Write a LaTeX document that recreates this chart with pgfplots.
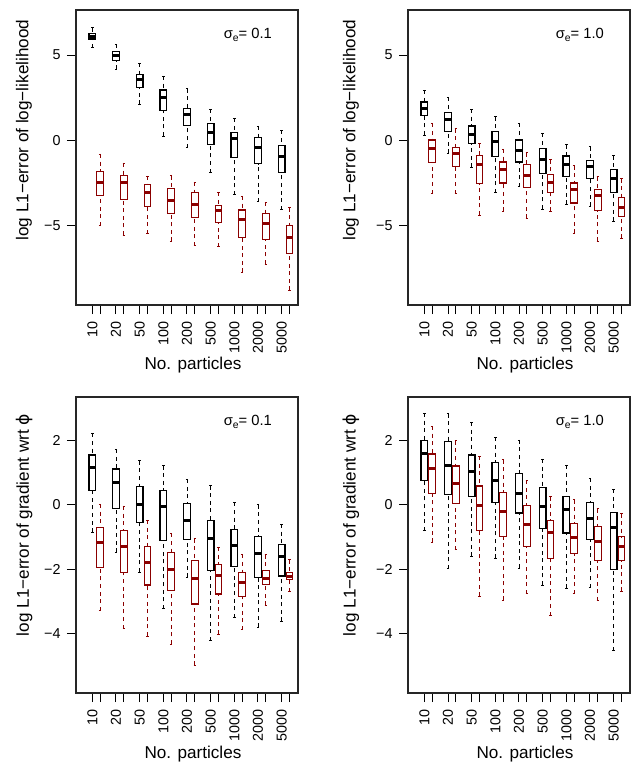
\documentclass[border=0pt]{standalone}
\usepackage{fontspec}
\setmainfont{Liberation Sans}
\newfontfamily\dejavu{DejaVu Sans}
\usepackage{pgfplots}
\usepgfplotslibrary{statistics}
\pgfplotsset{compat=1.18}
\definecolor{rdark}{HTML}{8B0000}

\newcommand{\ticksz}{\fontsize{7.2}{8}\selectfont}
\newcommand{\labsz}{\fontsize{8.6}{10}\selectfont}
\newcommand{\sig}[1]{\node[anchor=east, font=\fontsize{7.4}{8}\selectfont] at (axis description cs:0.914,0.915)
  {σ\raisebox{-0.35ex}{\fontsize{5.2}{5}\selectfont e}= #1};}
% one box: colour, position, upper whisker, upper quartile, median, lower quartile, lower whisker
\newcommand{\bx}[7]{\addplot[color=#1, boxplot prepared={draw direction=y, draw position=#2, upper whisker=#3,
  upper quartile=#4, median=#5, lower quartile=#6, lower whisker=#7}] coordinates {};}

\pgfplotsset{
  boxplot/draw/lower whisker/.code={%
    \draw[dash pattern=on 2bp off 1.8bp]
      (boxplot box cs:\pgfplotsboxplotvalue{lower whisker},0.5) --
      (boxplot box cs:\pgfplotsboxplotvalue{lower quartile},0.5);
    \draw (boxplot whisker cs:\pgfplotsboxplotvalue{lower whisker},0) --
      (boxplot whisker cs:\pgfplotsboxplotvalue{lower whisker},1);
  },
  boxplot/draw/upper whisker/.code={%
    \draw[dash pattern=on 2bp off 1.8bp]
      (boxplot box cs:\pgfplotsboxplotvalue{upper whisker},0.5) --
      (boxplot box cs:\pgfplotsboxplotvalue{upper quartile},0.5);
    \draw (boxplot whisker cs:\pgfplotsboxplotvalue{upper whisker},0) --
      (boxplot whisker cs:\pgfplotsboxplotvalue{upper whisker},1);
  },
  panel/.style={
    scale only axis, width=111bp, height=147.5bp, anchor=south west,
    xmin=0.31, xmax=9.69,
    xtick={1,1.33,2,2.33,3,3.33,4,4.33,5,5.33,6,6.33,7,7.33,8,8.33,9,9.33},
    xticklabels={10,,20,,50,,100,,200,,500,,1000,,2000,,5000,},
    tick pos=left, tick align=outside, major tick length=4.5bp,
    tick style={black, line width=0.5bp},
    axis line style={black!85, line width=0.55bp},
    x tick label style={rotate=90, anchor=east, inner xsep=3.5bp, inner ysep=0pt, font=\ticksz},
    y tick label style={anchor=east, inner xsep=3bp, font=\ticksz},
    every axis x label/.style={at={(axis description cs:0.527,-0.22)}, anchor=base, font=\labsz},
    xlabel={No. particles},
    boxplot/draw direction=y,
    boxplot/box extend=0.28, boxplot/whisker extend=0.1,
    boxplot/every box/.style={line width=0.6bp},
    boxplot/every whisker/.style={line width=0.6bp},
    boxplot/every median/.style={line width=1.5bp},
  },
  toprow/.style={ymin=-9.64, ymax=7.64, ytick={-5,0,5}, yticklabels={−5,0,5}},
  botrow/.style={ymin=-5.84, ymax=3.34, ytick={-4,-2,0,2}, yticklabels={−4,−2,0,2}, height=148bp},
}

\begin{document}
\begin{tikzpicture}
\useasboundingbox (0,0) rectangle (316.5bp,-384.5bp);

% top left
\begin{axis}[panel, toprow, at={(38bp,-152.5bp)},
  every axis y label/.style={at={(axis description cs:-0.234,0.593)}, rotate=90, anchor=center, font=\labsz},
  ylabel={log L1−error of log−likelihood}]
\bx{black}{1}{6.6}{6.27}{6.11}{5.94}{5.43}
\bx{black}{2}{5.63}{5.23}{4.98}{4.69}{4.16}
\bx{black}{3}{4.53}{3.85}{3.54}{3.09}{2.12}
\bx{black}{4}{3.77}{2.95}{2.49}{1.74}{0.26}
\bx{black}{5}{3.03}{1.88}{1.53}{0.89}{-0.42}
\bx{black}{6}{1.82}{1.0}{0.46}{-0.22}{-1.88}
\bx{black}{7}{1.30}{0.48}{0.09}{-1.0}{-3.19}
\bx{black}{8}{0.85}{0.19}{-0.40}{-1.36}{-3.6}
\bx{black}{9}{0.60}{-0.28}{-0.96}{-1.86}{-4.06}
\bx{rdark}{1.33}{-0.79}{-1.84}{-2.45}{-3.23}{-5.0}
\bx{rdark}{2.33}{-1.32}{-2.06}{-2.49}{-3.48}{-5.54}
\bx{rdark}{3.33}{-2.08}{-2.6}{-3.05}{-3.87}{-5.47}
\bx{rdark}{4.33}{-2.06}{-2.8}{-3.5}{-4.26}{-5.92}
\bx{rdark}{5.33}{-2.43}{-3.07}{-3.75}{-4.53}{-6.17}
\bx{rdark}{6.33}{-3.03}{-3.81}{-4.12}{-4.82}{-6.23}
\bx{rdark}{7.33}{-3.25}{-4.08}{-4.63}{-5.68}{-7.73}
\bx{rdark}{8.33}{-3.61}{-4.28}{-4.88}{-5.82}{-7.24}
\bx{rdark}{9.33}{-3.93}{-4.98}{-5.66}{-6.64}{-8.78}
\sig{0.1}
\end{axis}

% top right
\begin{axis}[panel, toprow, at={(204bp,-152.5bp)},
  every axis y label/.style={at={(axis description cs:-0.257,0.593)}, rotate=90, anchor=center, font=\labsz},
  ylabel={log L1−error of log−likelihood}]
\bx{black}{1}{2.94}{2.25}{1.88}{1.45}{0.32}
\bx{black}{2}{2.53}{1.65}{1.2}{0.51}{-0.75}
\bx{black}{3}{1.84}{0.85}{0.36}{-0.2}{-1.57}
\bx{black}{4}{1.39}{0.54}{-0.09}{-0.96}{-3.07}
\bx{black}{5}{1.0}{0.03}{-0.6}{-1.26}{-2.72}
\bx{black}{6}{0.42}{-0.48}{-1.14}{-1.92}{-4.02}
\bx{black}{7}{-0.26}{-0.91}{-1.42}{-2.13}{-3.75}
\bx{black}{8}{-0.36}{-1.16}{-1.53}{-2.25}{-3.85}
\bx{black}{9}{-0.89}{-1.71}{-2.21}{-3.03}{-4.73}
\bx{rdark}{1.33}{1.0}{0.03}{-0.5}{-1.28}{-3.11}
\bx{rdark}{2.33}{0.69}{-0.4}{-0.79}{-1.55}{-3.11}
\bx{rdark}{3.33}{-0.2}{-0.87}{-1.42}{-2.5}{-4.37}
\bx{rdark}{4.33}{-0.5}{-1.26}{-1.71}{-2.49}{-4.14}
\bx{rdark}{5.33}{-0.73}{-1.42}{-2.06}{-2.74}{-4.55}
\bx{rdark}{6.33}{-1.14}{-2.0}{-2.47}{-3.03}{-4.16}
\bx{rdark}{7.33}{-1.47}{-2.49}{-2.85}{-3.67}{-5.43}
\bx{rdark}{8.33}{-2.13}{-2.89}{-3.2}{-4.12}{-5.92}
\bx{rdark}{9.33}{-2.23}{-3.36}{-3.91}{-4.47}{-5.74}
\sig{1.0}
\end{axis}

% bottom left
\begin{axis}[panel, botrow, at={(38bp,-346.5bp)},
  every axis y label/.style={at={(axis description cs:-0.234,0.568)}, rotate=90, anchor=center, font=\labsz},
  ylabel={log L1−error of gradient wrt {\dejavu ϕ}}]
\bx{black}{1}{2.21}{1.54}{1.14}{0.45}{-0.85}
\bx{black}{2}{1.72}{1.11}{0.69}{-0.11}{-1.47}
\bx{black}{3}{1.36}{0.56}{0.0}{-0.55}{-2.09}
\bx{black}{4}{1.21}{0.44}{-0.07}{-1.12}{-3.23}
\bx{black}{5}{0.79}{0.03}{-0.49}{-1.07}{-2.25}
\bx{black}{6}{0.59}{-0.5}{-1.05}{-2.05}{-4.22}
\bx{black}{7}{0.07}{-0.78}{-1.26}{-1.91}{-3.51}
\bx{black}{8}{0.0}{-0.99}{-1.5}{-2.26}{-3.8}
\bx{black}{9}{-0.6}{-1.24}{-1.62}{-2.21}{-3.62}
\bx{rdark}{1.33}{0.02}{-0.7}{-1.17}{-1.94}{-3.29}
\bx{rdark}{2.33}{-0.04}{-0.81}{-1.31}{-2.11}{-3.84}
\bx{rdark}{3.33}{-0.48}{-1.29}{-1.78}{-2.49}{-4.07}
\bx{rdark}{4.33}{-0.89}{-1.47}{-2.02}{-2.66}{-4.32}
\bx{rdark}{5.33}{-1.05}{-1.73}{-2.28}{-3.08}{-4.98}
\bx{rdark}{6.33}{-1.31}{-1.85}{-2.2}{-2.77}{-4.01}
\bx{rdark}{7.33}{-1.54}{-2.1}{-2.42}{-2.85}{-3.88}
\bx{rdark}{8.33}{-1.55}{-2.05}{-2.29}{-2.48}{-3.12}
\bx{rdark}{9.33}{-1.7}{-2.1}{-2.22}{-2.33}{-2.7}
\sig{0.1}
\end{axis}

% bottom right
\begin{axis}[panel, botrow, at={(204bp,-346.5bp)},
  every axis y label/.style={at={(axis description cs:-0.257,0.568)}, rotate=90, anchor=center, font=\labsz},
  ylabel={log L1−error of gradient wrt {\dejavu ϕ}}]
\bx{black}{1}{2.84}{2.0}{1.59}{0.76}{-0.81}
\bx{black}{2}{2.82}{1.96}{1.23}{0.31}{-1.99}
\bx{black}{3}{2.56}{1.54}{1.03}{0.25}{-1.6}
\bx{black}{4}{2.09}{1.32}{0.76}{0.07}{-1.66}
\bx{black}{5}{2.01}{0.96}{0.36}{-0.26}{-1.96}
\bx{black}{6}{1.42}{0.53}{-0.06}{-0.73}{-2.49}
\bx{black}{7}{1.22}{0.26}{-0.16}{-0.88}{-2.59}
\bx{black}{8}{0.82}{0.07}{-0.44}{-1.08}{-2.57}
\bx{black}{9}{0.48}{-0.24}{-0.72}{-2.01}{-4.53}
\bx{rdark}{1.33}{2.44}{1.57}{1.13}{0.36}{-1.17}
\bx{rdark}{2.33}{1.98}{1.2}{0.66}{0.04}{-1.39}
\bx{rdark}{3.33}{1.51}{0.58}{-0.04}{-0.8}{-2.84}
\bx{rdark}{4.33}{1.39}{0.37}{-0.2}{-0.98}{-2.97}
\bx{rdark}{5.33}{0.76}{-0.02}{-0.6}{-1.29}{-2.76}
\bx{rdark}{6.33}{0.25}{-0.49}{-0.85}{-1.68}{-3.44}
\bx{rdark}{7.33}{0.16}{-0.58}{-1.03}{-1.52}{-2.76}
\bx{rdark}{8.33}{-0.12}{-0.67}{-1.13}{-1.72}{-2.98}
\bx{rdark}{9.33}{-0.28}{-0.99}{-1.29}{-1.74}{-2.69}
\sig{1.0}
\end{axis}
\end{tikzpicture}
\end{document}
